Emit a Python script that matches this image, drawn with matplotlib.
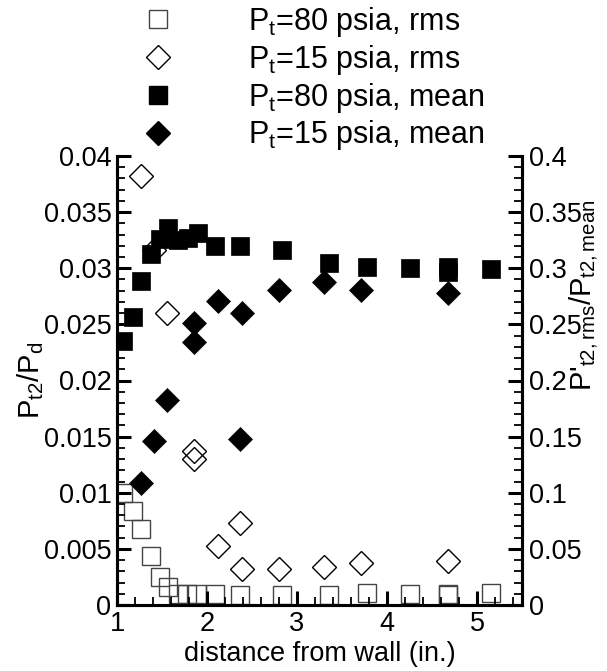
import matplotlib
matplotlib.use("Agg")
import matplotlib.pyplot as plt
from matplotlib.lines import Line2D
from matplotlib.ticker import MultipleLocator, FuncFormatter

plt.rcParams['font.family'] = ['Liberation Sans', 'DejaVu Sans']
plt.rcParams['mathtext.fontset'] = 'custom'
plt.rcParams['mathtext.rm'] = 'Liberation Sans'
plt.rcParams['mathtext.it'] = 'Liberation Sans'
plt.rcParams['mathtext.default'] = 'regular'

# P_t = 80 psia, mean (left axis)
x80_mean = [1.07, 1.18, 1.27, 1.38, 1.48, 1.565, 1.68, 1.79, 1.90, 2.09, 2.37, 2.83, 3.36, 3.78, 4.25, 4.68, 4.68, 5.16]
y80_mean = [0.0235, 0.0257, 0.0289, 0.0313, 0.0326, 0.0336, 0.0325, 0.0327, 0.0331, 0.0320, 0.0320, 0.0316, 0.0305, 0.0301, 0.0300, 0.0301, 0.0297, 0.0299]

# P_t = 15 psia, mean (left axis)
x15_mean = [1.27, 1.41, 1.55, 1.86, 1.86, 2.12, 2.37, 2.39, 2.80, 3.30, 3.71, 4.68]
y15_mean = [0.0109, 0.0146, 0.0183, 0.0234, 0.0251, 0.0271, 0.0148, 0.0260, 0.0281, 0.0288, 0.0281, 0.0278]

# P_t = 80 psia, rms (right axis)
x80_rms = [1.07, 1.18, 1.27, 1.38, 1.48, 1.57, 1.68, 1.78, 1.89, 2.09, 2.37, 2.83, 3.36, 3.78, 4.25, 4.68, 4.68, 5.16]
y80_rms = [0.100, 0.084, 0.068, 0.044, 0.025, 0.016, 0.010, 0.0095, 0.0095, 0.0095, 0.009, 0.009, 0.009, 0.0104, 0.0095, 0.0098, 0.0092, 0.011]

# P_t = 15 psia, rms (right axis)
x15_rms = [1.27, 1.41, 1.55, 1.86, 1.86, 2.12, 2.37, 2.39, 2.80, 3.30, 3.71, 4.68]
y15_rms = [0.382, 0.316, 0.260, 0.137, 0.130, 0.053, 0.073, 0.032, 0.032, 0.034, 0.037, 0.039]

labels = ['$P_t$=80 psia, rms', '$P_t$=15 psia, rms', '$P_t$=80 psia, mean', '$P_t$=15 psia, mean']

W, H = 607, 671
fig = plt.figure(figsize=(W / 100, H / 100), dpi=100)
ax = fig.add_axes([117 / W, 1 - 605 / H, (522 - 117) / W, (605 - 156) / H])
ax2 = ax.twinx()

ms = 12.7
ax2.plot(x80_rms, y80_rms, 's', ms=ms, mfc='none', mec='#444444', mew=1.0, zorder=3)
ax2.plot(x15_rms, y15_rms, 'D', ms=ms * 0.95, mfc='none', mec='black', mew=1.0, zorder=3)
ax.plot(x80_mean, y80_mean, 's', ms=ms, mfc='black', mec='black', mew=0.5, zorder=4)
ax.plot(x15_mean, y15_mean, 'D', ms=ms * 0.95, mfc='black', mec='black', mew=0.5, zorder=4)
ax.set_zorder(ax2.get_zorder() + 1)
ax.patch.set_visible(False)

ax.set_xlim(1, 5.5)
ax.set_ylim(0, 0.04)
ax2.set_ylim(0, 0.4)

ax.xaxis.set_major_locator(MultipleLocator(1))
ax.xaxis.set_minor_locator(MultipleLocator(0.2))
ax.yaxis.set_major_locator(MultipleLocator(0.005))
ax.yaxis.set_minor_locator(MultipleLocator(0.001))
ax2.yaxis.set_major_locator(MultipleLocator(0.05))
ax2.yaxis.set_minor_locator(MultipleLocator(0.01))

fmt = lambda v, p: ('%g' % round(v, 6))
ax.xaxis.set_major_formatter(FuncFormatter(fmt))
ax.yaxis.set_major_formatter(FuncFormatter(fmt))
ax2.yaxis.set_major_formatter(FuncFormatter(fmt))

for a in (ax, ax2):
    for s in a.spines.values():
        s.set_linewidth(2.2)
    a.spines['top'].set_visible(False)

ax.tick_params(axis='both', which='major', direction='in', length=10, width=2.2, labelsize=19.5, pad=4)
ax.tick_params(axis='both', which='minor', direction='in', length=6, width=1.3)
ax.tick_params(axis='y', left=True, right=False)
ax.tick_params(axis='x', top=False)
ax2.tick_params(axis='y', which='major', direction='in', length=10, width=2.2, labelsize=19.5, pad=5)
ax2.tick_params(axis='y', which='minor', direction='in', length=6, width=1.3)

ax.set_xlabel('distance from wall (in.)', fontsize=19.5, labelpad=3)
ax.set_ylabel('$P_{t2}/P_d$', fontsize=21)
ax.yaxis.set_label_coords(-0.175, 0.5)
ax2.set_ylabel("P'$_{t2,rms}$/P$_{t2,mean}$", fontsize=21, rotation=90)
ax2.yaxis.set_label_coords(1.11, 0.69)

handles = [
    Line2D([], [], ls='none', marker='s', ms=ms, mfc='none', mec='#444444', mew=1.0),
    Line2D([], [], ls='none', marker='D', ms=ms * 0.95, mfc='none', mec='black', mew=1.0),
    Line2D([], [], ls='none', marker='s', ms=ms, mfc='black', mec='black'),
    Line2D([], [], ls='none', marker='D', ms=ms * 0.95, mfc='black', mec='black'),
]
fig.legend(handles, labels, loc='upper left', bbox_to_anchor=(127 / W, 1 - 5 / H),
           frameon=False, fontsize=22, handlelength=2.0, handletextpad=1.95,
           labelspacing=0.125, borderpad=0, borderaxespad=0)

fig.savefig('out.png', dpi=100)
